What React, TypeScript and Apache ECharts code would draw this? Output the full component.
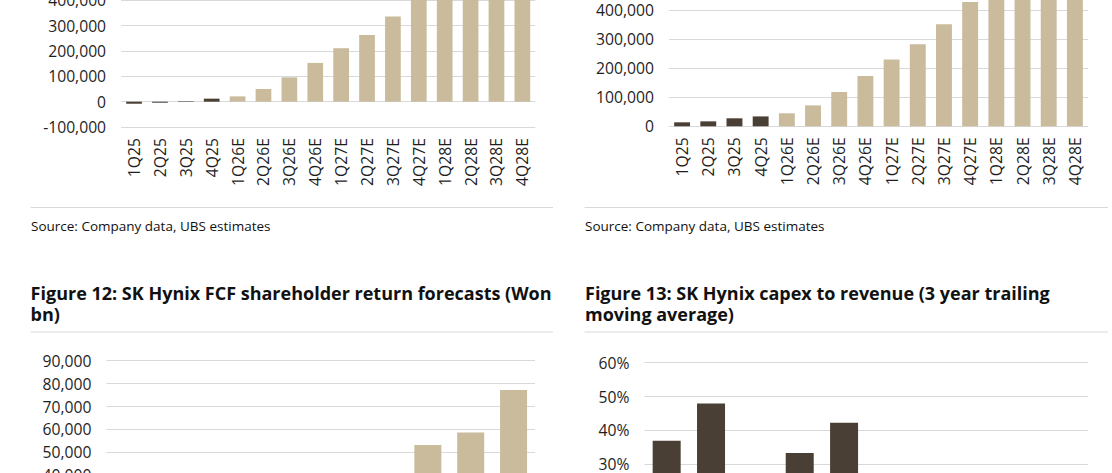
import React, { useEffect, useRef } from "react";
import * as echarts from "echarts";

const quarters = [
  "1Q25", "2Q25", "3Q25", "4Q25",
  "1Q26E", "2Q26E", "3Q26E", "4Q26E",
  "1Q27E", "2Q27E", "3Q27E", "4Q27E",
  "1Q28E", "2Q28E", "3Q28E", "4Q28E",
];
const topLeftValues = [-8000, -4000, 2000, 12000, 21000, 50000, 96000, 153000, 211000, 263000, 336000, 420000, 460000, 500000, 540000, 580000];
const topRightValues = [13700, 17000, 27500, 34000, 44700, 72000, 118000, 173000, 230000, 282000, 351000, 428000, 470000, 510000, 550000, 590000];

const fcfYears = ["2019", "2020", "2021", "2022", "2023", "2024", "2025", "2026E", "2027E", "2028E"];
const fcfValues = [3500, 1700, 2300, 2800, 1200, 4000, 12000, 53200, 58700, 77200];

const capexYears = ["2016", "2017", "2018", "2019", "2020", "2021", "2022", "2023", "2024", "2025"];
const capexPct = [36.9, 47.9, 26.0, 33.3, 42.2, 25.0, 22.0, 20.0, 18.0, 16.0];

const sourceText = "Source: Company data, UBS estimates";
const fig12Title = ["Figure 12: SK Hynix FCF shareholder return forecasts (Won", "bn)"];
const fig13Title = ["Figure 13: SK Hynix capex to revenue (3 year trailing", "moving average)"];

const DARK = "#4a3f35";
const LIGHT = "#c9bb9c";
const GRID = "#d9d9d9";
const TEXT = "#1e1e1e";
const FONT = "'Open Sans', 'Noto Sans', sans-serif";
const OFF = 60;

const colorFor = (cat: string) => (cat.endsWith("E") ? LIGHT : DARK);
const fmt = (v: number) => v.toLocaleString("en-US");

export default function App() {
  const ref = useRef<HTMLDivElement>(null);
  useEffect(() => {
    if (!ref.current) return;
    const chart = echarts.init(ref.current, undefined, { renderer: "svg" });
    const grids = [
      { left: 121.1, width: 414.2, top: 0.3 - 25.35 + OFF, height: 152.1 },
      { left: 669, width: 419, top: 126.3 - 5 * 29.07 + OFF, height: 5 * 29.07 },
      { left: 106.4, width: 428.6, top: 360.7 + OFF, height: 9 * 22.9 },
      { left: 644.5, width: 443.5, top: 362.7 + OFF, height: 6 * 33.8 },
    ];
    const cats = [quarters, quarters, fcfYears, capexYears];
    const vals = [topLeftValues, topRightValues, fcfValues, capexPct];
    const yCfg = [
      { min: -100000, max: 500000, interval: 100000, f: fmt },
      { min: 0, max: 500000, interval: 100000, f: fmt },
      { min: 0, max: 90000, interval: 10000, f: fmt },
      { min: 0, max: 60, interval: 10, f: (v: number) => `${v}%` },
    ];
    const barW = [15.7, 15.9, 27, 28];
    const labelStyle = { fontFamily: FONT, fontSize: 15.7, color: TEXT };
    const hline = (x1: number, x2: number, y: number) => ({
      type: "line",
      shape: { x1, y1: y + OFF, x2, y2: y + OFF },
      style: { stroke: GRID, lineWidth: 1 },
      silent: true,
    });
    const text = (x: number, yTop: number, t: string, size: number, bold: boolean, lh: number) => ({
      type: "text",
      x,
      y: yTop + OFF,
      style: {
        text: t,
        fill: "#111",
        font: `${bold ? "bold " : ""}${size}px ${FONT}`,
        lineHeight: lh,
        textAlign: "left",
        textVerticalAlign: "top",
        align: "left",
        verticalAlign: "top",
      },
      silent: true,
    });
    chart.setOption({
      animation: false,
      backgroundColor: "#ffffff",
      grid: grids,
      xAxis: grids.map((_, i) => ({
        type: "category",
        gridIndex: i,
        data: cats[i],
        axisLine: { show: false, onZero: false },
        axisTick: { show: false },
        axisLabel: { ...labelStyle, rotate: 90, margin: 11, interval: 0 },
      })),
      yAxis: grids.map((_, i) => ({
        type: "value",
        gridIndex: i,
        min: yCfg[i].min,
        max: yCfg[i].max,
        interval: yCfg[i].interval,
        axisLine: { show: false },
        axisTick: { show: false },
        splitLine: { lineStyle: { color: GRID, width: 1 } },
        axisLabel: { ...labelStyle, margin: 15, formatter: yCfg[i].f },
      })),
      series: grids.map((_, i) => ({
        type: "bar",
        xAxisIndex: i,
        yAxisIndex: i,
        barWidth: barW[i],
        data: vals[i].map((v, j) => ({ value: v, itemStyle: { color: colorFor(cats[i][j]) } })),
      })),
      graphic: [
        hline(30.6, 553, 207.5),
        hline(584.6, 1108, 207.5),
        hline(30.6, 553, 332),
        hline(584.6, 1108, 332),
        text(31, 226 - 9, sourceText, 13.5, false, 18),
        text(585, 226 - 9, sourceText, 13.5, false, 18),
        text(30.6, 292.5 - 10.75, fig12Title.join("\n"), 18, true, 21.5),
        text(585, 292.5 - 10.75, fig13Title.join("\n"), 18, true, 21.5),
      ],
    });
    return () => chart.dispose();
  }, []);
  return (
    <div style={{ position: "fixed", left: 0, top: 0, width: 1112, height: 473, overflow: "hidden", background: "#fff" }}>
      <div ref={ref} style={{ position: "absolute", left: 0, top: -OFF, width: 1112, height: 473 + OFF + 220 }} />
    </div>
  );
}
